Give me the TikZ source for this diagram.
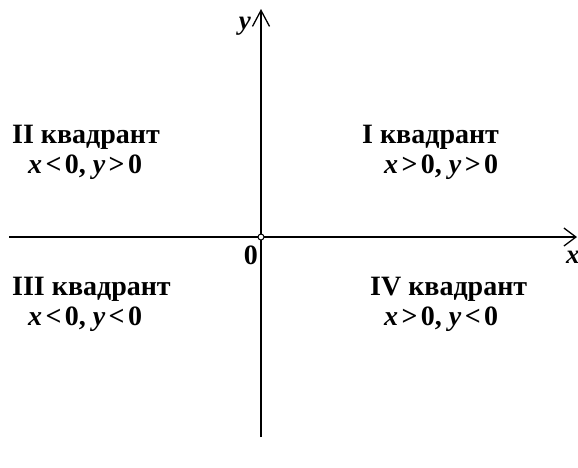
\documentclass[tikz,border=0pt]{standalone}
\usepackage{fontspec}
\setmainfont{Liberation Serif}
\usetikzlibrary{arrows.meta}
\newcommand\relsp[1]{\hspace{0.12em}#1\hspace{0.12em}}
\tikzset{
  axis/.style={line width=1.3pt,draw=black},
  xarr/.style={axis,-{Straight Barb[length=12pt,width=18pt,line width=1.3pt]}},
  yarr/.style={axis,-{Straight Barb[length=16pt,width=17pt,line width=1.3pt]}},
  lab/.style={font=\fontsize{28}{30}\selectfont\bfseries,inner sep=0pt},
  cond/.style={lab},
  axlab/.style={font=\fontsize{27}{30}\selectfont\bfseries\itshape,inner sep=0pt},
}
\begin{document}
\begin{tikzpicture}[x=1pt,y=-1pt]
\useasboundingbox (0,0) rectangle (578,467);
\coordinate (O) at (261,237);
\coordinate (xl) at (9,237); \coordinate (xr) at (577,237);
\coordinate (yb) at (261,437); \coordinate (yt) at (261,9);
\draw[xarr] (xl)--(xr);
\draw[yarr] (yb)--(yt);
\draw[line width=1pt,fill=white] (O) circle (3);
\node[axlab,anchor=base east] (ylab) at (251,29) {y};
\node[axlab,anchor=base west] (xlab) at (566,263) {x};
\node[lab,anchor=base east] (zero) at (258,264) {0};
% quadrants
\node[lab,anchor=base west] (q1) at (362,143) {I квадрант};
\node[cond,anchor=base west] (c1) at (384,173) {\textit{x}\relsp{>}0, \textit{y}\relsp{>}0};
\node[lab,anchor=base west] (q2) at (12,143) {II квадрант};
\node[cond,anchor=base west] (c2) at (28,173) {\textit{x}\relsp{<}0, \textit{y}\relsp{>}0};
\node[lab,anchor=base west] (q3) at (12,295) {III квадрант};
\node[cond,anchor=base west] (c3) at (28,325) {\textit{x}\relsp{<}0, \textit{y}\relsp{<}0};
\node[lab,anchor=base west] (q4) at (370,295) {IV квадрант};
\node[cond,anchor=base west] (c4) at (384,325) {\textit{x}\relsp{>}0, \textit{y}\relsp{<}0};
\end{tikzpicture}
\end{document}
